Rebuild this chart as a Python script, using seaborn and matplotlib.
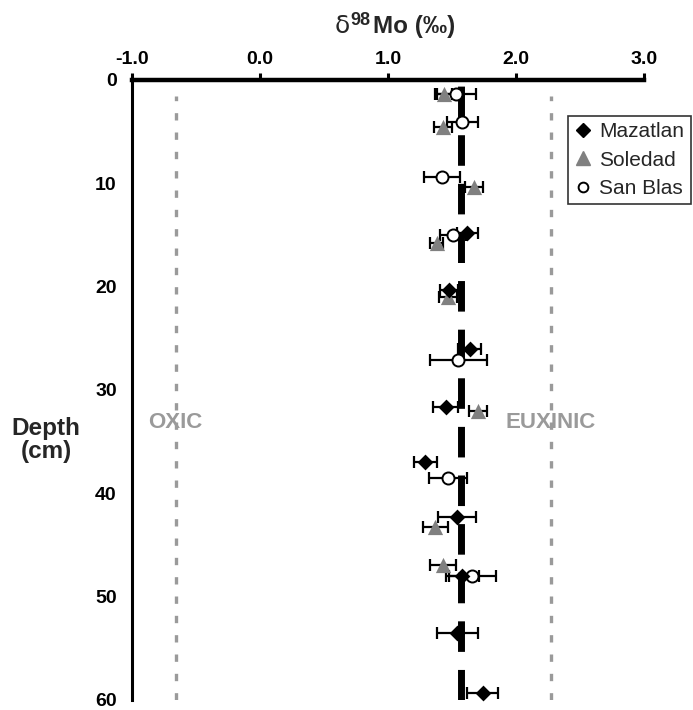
import matplotlib
matplotlib.use("Agg")
import matplotlib.pyplot as plt
import seaborn as sns
import pandas as pd
from matplotlib.lines import Line2D

# ─── Data ─────────────────────────────────────────────────────────────────────
maz_depth = [14.8, 20.3, 26.0, 31.6, 37.0, 42.3, 48.0, 53.5, 59.3]
maz_d98 = [1.62, 1.48, 1.64, 1.45, 1.29, 1.54, 1.58, 1.54, 1.74]
maz_err = [0.08, 0.07, 0.09, 0.10, 0.09, 0.15, 0.13, 0.16, 0.12]

sol_depth = [1.4, 4.5, 10.4, 15.8, 21.0, 32.0, 43.3, 46.9]
sol_d98 = [1.44, 1.43, 1.67, 1.38, 1.47, 1.70, 1.37, 1.43]
sol_err = [0.06, 0.07, 0.07, 0.05, 0.07, 0.07, 0.10, 0.10]

sb_depth = [1.4, 4.1, 9.4, 15.0, 27.1, 38.5, 48.0]
sb_d98 = [1.53, 1.58, 1.42, 1.51, 1.55, 1.47, 1.66]
sb_err = [0.16, 0.12, 0.14, 0.10, 0.22, 0.15, 0.18]

oxic_val = -0.66
euxinic_val = 2.27
mean_val = 1.57

x_ticks = [-1.0, 0.0, 1.0, 2.0, 3.0]
y_ticks = [0, 10, 20, 30, 40, 50, 60]
sites = ["Mazatlan", "Soledad", "San Blas"]

df = pd.concat([
    pd.DataFrame({"depth": maz_depth, "d98": maz_d98, "err": maz_err, "site": sites[0]}),
    pd.DataFrame({"depth": sol_depth, "d98": sol_d98, "err": sol_err, "site": sites[1]}),
    pd.DataFrame({"depth": sb_depth, "d98": sb_d98, "err": sb_err, "site": sites[2]}),
], ignore_index=True)

sns.set_theme(style="white")
plt.rcParams["font.family"] = ["Liberation Sans", "DejaVu Sans"]

W, H = 693, 710
fig = plt.figure(figsize=(W / 100, H / 100), dpi=100)
ax = fig.add_axes([132 / W, 10 / H, 512 / W, 620 / H])

# reference lines
ax.axvline(oxic_val, ymin=0, ymax=0.975, color="#9a9a9a", lw=2.4, dashes=(2.2, 3.6), zorder=1)
ax.axvline(euxinic_val, ymin=0, ymax=0.975, color="#9a9a9a", lw=2.4, dashes=(2.2, 3.6), zorder=1)
ax.axvline(mean_val, ymin=0, ymax=0.995, color="black", lw=5, dashes=(4.4, 2.6), zorder=2)

# error bars
for site in ["Soledad", "San Blas", "Mazatlan"]:
    sub = df[df["site"] == site]
    ax.errorbar(sub["d98"], sub["depth"], xerr=sub["err"], fmt="none",
                ecolor="black", elinewidth=1.6, capsize=4, capthick=1.6, zorder=3,
                clip_on=False)

# markers
markers = {"Mazatlan": "D", "Soledad": "^", "San Blas": "o"}
palette = {"Mazatlan": "black", "Soledad": "#808080", "San Blas": "white"}
for site, size in [("Soledad", 120), ("San Blas", 75), ("Mazatlan", 65)]:
    sub = df[df["site"] == site]
    sns.scatterplot(data=sub, x="d98", y="depth", ax=ax, marker=markers[site],
                    color=palette[site], s=size, linewidth=1.4 if site == "San Blas" else 0,
                    edgecolor="black", zorder=4, clip_on=False, legend=False)

ax.set_xlim(-1.0, 3.0)
ax.set_ylim(60, 0)
ax.set_xticks(x_ticks)
ax.set_xticklabels([f"{v:.1f}" for v in x_ticks])
ax.set_yticks(y_ticks)
ax.xaxis.tick_top()
ax.set_xlabel("")
ax.set_ylabel("")

for s in ["right", "bottom"]:
    ax.spines[s].set_visible(False)
ax.spines["top"].set_linewidth(3.2)
ax.spines["left"].set_linewidth(2.2)
ax.spines["top"].set_color("black")
ax.spines["left"].set_color("black")

ax.tick_params(axis="x", direction="out", length=5, width=2.2, pad=4,
               labelsize=14, colors="black")
ax.tick_params(axis="y", direction="out", length=5, width=2.5, pad=6,
               labelsize=14, colors="black")
for lbl in ax.get_xticklabels() + ax.get_yticklabels():
    lbl.set_fontweight("bold")

# title: delta (regular) + superscript 98 + Mo (permil), all bold but the delta
base = 1 - 33 / H
fig.text(335 / W, base, "δ", fontsize=18, family="DejaVu Sans", ha="left", va="baseline")
fig.text(350 / W, 1 - 25 / H, "98", fontsize=13, fontweight="bold", ha="left", va="baseline")
fig.text(373 / W, base, "Mo (‰)", fontsize=17.5, fontweight="bold", ha="left", va="baseline")

ax.text(oxic_val, 33.1, "OXIC", color="#9a9a9a", fontsize=16, fontweight="bold",
        ha="center", va="center", zorder=5)
ax.text(euxinic_val, 33.1, "EUXINIC", color="#9a9a9a", fontsize=16, fontweight="bold",
        ha="center", va="center", zorder=5)
fig.text(46 / W, 1 - 440 / H, "Depth\n(cm)", fontsize=17.5, fontweight="bold",
         ha="center", va="center", linespacing=1.05)

# legend
handles = [
    Line2D([], [], marker="D", color="black", ls="none", markersize=7),
    Line2D([], [], marker="^", color="#808080", ls="none", markersize=10),
    Line2D([], [], marker="o", markerfacecolor="white", markeredgecolor="black",
           markeredgewidth=1.4, ls="none", markersize=7),
]
leg = fig.legend(handles, sites, loc="upper left",
                 bbox_to_anchor=(568 / W, 1 - 116 / H), fontsize=15, frameon=True,
                 fancybox=False, edgecolor="black", handlelength=0.8, handletextpad=0.4,
                 borderpad=0.3, labelspacing=0.45, borderaxespad=0)
leg.get_frame().set_linewidth(1.2)

plt.savefig("out.png", dpi=100)
plt.close()
